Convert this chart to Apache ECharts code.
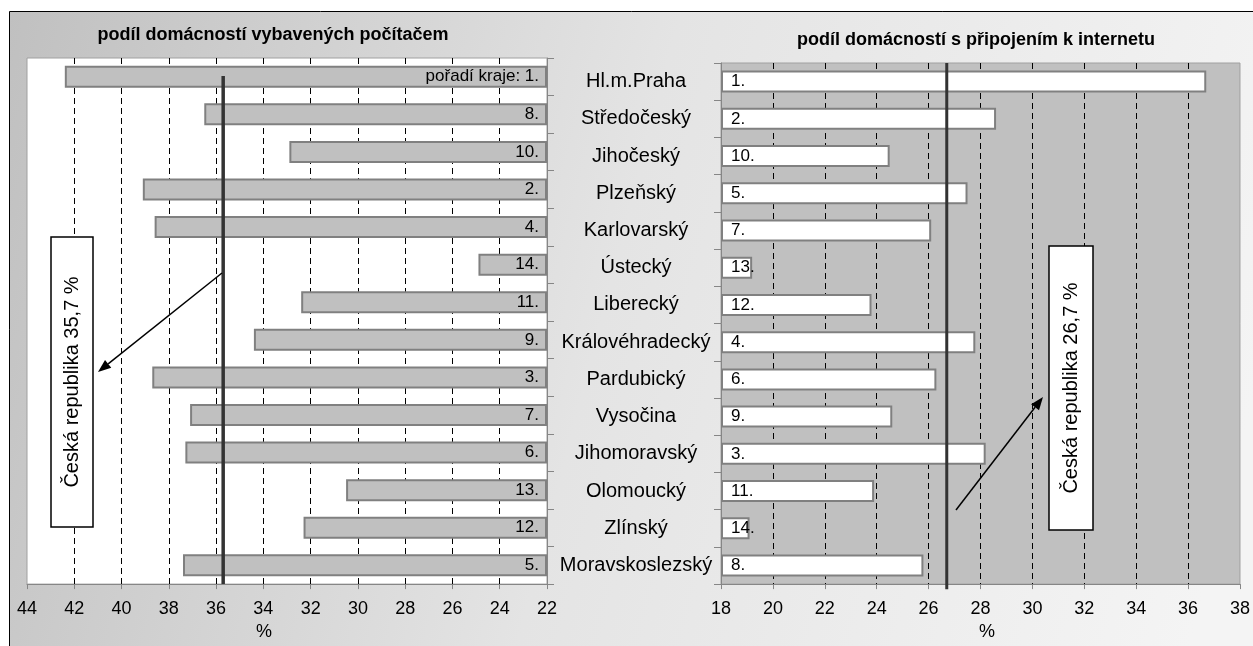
<!DOCTYPE html>
<html>
<head>
<meta charset="utf-8">
<script src="https://cdn.jsdelivr.net/npm/echarts@6/dist/echarts.min.js"></script>
<style>
    html, body { margin: 0; padding: 0; background: #fff; }
    #chart { width: 1253px; height: 646px; }
</style>
</head>
<body>
<div id="chart"></div>
<script>
    // kraje v pořadí grafu (shora dolů)
    const regions = ['Hl.m.Praha', 'Středočeský', 'Jihočeský', 'Plzeňský', 'Karlovarský', 'Ústecký', 'Liberecký',
        'Královéhradecký', 'Pardubický', 'Vysočina', 'Jihomoravský', 'Olomoucký', 'Zlínský', 'Moravskoslezský'];
    // podíl domácností vybavených počítačem (%)
    const pcShare = [42.4, 36.5, 32.9, 39.1, 38.6, 24.9, 32.4, 34.4, 38.7, 37.1, 37.3, 30.5, 32.3, 37.4];
    const pcRank = [1, 8, 10, 2, 4, 14, 11, 9, 3, 7, 6, 13, 12, 5];
    // podíl domácností s připojením k internetu (%)
    const netShare = [36.7, 28.6, 24.5, 27.5, 26.1, 19.2, 23.8, 27.8, 26.3, 24.6, 28.2, 23.9, 19.1, 25.8];
    const netRank = [1, 2, 10, 5, 7, 13, 12, 4, 6, 9, 3, 11, 14, 8];
    // Česká republika
    const pcMean = 35.7;
    const netMean = 26.7;

    const FONT = "'Liberation Sans', Arial, sans-serif";

    function arrow(x1, y1, x2, y2) {
        const a = Math.atan2(y2 - y1, x2 - x1), len = 13, w = 5;
        const bx = x2 - len * Math.cos(a), by = y2 - len * Math.sin(a);
        return [
            {type: 'line', z: 100, shape: {x1: x1, y1: y1, x2: bx, y2: by}, style: {stroke: '#000', lineWidth: 1.5}},
            {type: 'polygon', z: 100, shape: {points: [[x2, y2],
                        [bx + w * Math.sin(a), by - w * Math.cos(a)],
                        [bx - w * Math.sin(a), by + w * Math.cos(a)]]}, style: {fill: '#000'}}
        ];
    }

    function noteBox(x, y, w, h, text) {
        return {
            type: 'group', z: 100,
            children: [
                {type: 'rect', z: 100, shape: {x: x, y: y, width: w, height: h}, style: {fill: '#fff', stroke: '#000', lineWidth: 1.5}},
                {type: 'text', z: 101, x: x + w / 2, y: y + h / 2, rotation: Math.PI / 2,
                    style: {text: text, fontSize: 20, fontFamily: FONT, fill: '#000', align: 'center', verticalAlign: 'middle'}}
            ]
        };
    }

    const dashed = {show: true, showMinLine: false, showMaxLine: false, lineStyle: {color: '#000', type: [6, 4], width: 1}};
    const tickText = {fontSize: 18, fontFamily: FONT, color: '#000', margin: 16};

    const chart = echarts.init(document.getElementById('chart'));
    chart.setOption({
        animation: false,
        textStyle: {fontFamily: FONT},
        graphic: [
            {type: 'rect', z: -10, shape: {x: 9.5, y: 11.5, width: 1260, height: 650},
                style: {stroke: '#000', lineWidth: 1,
                    fill: new echarts.graphic.LinearGradient(0, 0, 1, 0.5, [
                        {offset: 0, color: '#c0c0c0'},
                        {offset: 0.5, color: '#e4e4e4'},
                        {offset: 1, color: '#f4f4f4'}
                    ])}},
            noteBox(51, 237, 42, 290, 'Česká republika 35,7 %'),
            noteBox(1049, 246, 44, 284, 'Česká republika 26,7 %'),
            ...arrow(222, 273, 98, 372),
            ...arrow(956, 510, 1043, 397)
        ],
        title: [{
            text: 'podíl domácností vybavených počítačem',
            left: 268, top: 21, textAlign: 'center',
            textStyle: {fontSize: 18, fontWeight: 'bold', color: '#000', fontFamily: FONT}
        }, {
            text: 'podíl domácností s připojením k internetu',
            left: 971, top: 26, textAlign: 'center',
            textStyle: {fontSize: 18, fontWeight: 'bold', color: '#000', fontFamily: FONT}
        }],
        grid: [{
            left: 27, top: 58, width: 520, height: 530,
            show: true, backgroundColor: '#fff', borderColor: '#a0a0a0', borderWidth: 1
        }, {
            left: 721, top: 63, width: 519, height: 527,
            show: true, backgroundColor: '#c0c0c0', borderColor: '#a0a0a0', borderWidth: 1
        }],
        xAxis: [{
            type: 'value', gridIndex: 0, min: 22, max: 44, interval: 2, inverse: true, startValue: 22,
            name: '%', nameLocation: 'middle', nameGap: 36,
            nameTextStyle: {fontSize: 18, color: '#000', padding: [0, 46, 0, 0]},
            axisLine: {show: true, lineStyle: {color: '#868686'}},
            axisTick: {show: true, length: 5, lineStyle: {color: '#868686'}},
            axisLabel: tickText,
            splitLine: dashed
        }, {
            type: 'value', gridIndex: 1, min: 18, max: 38, interval: 2, startValue: 18,
            name: '%', nameLocation: 'middle', nameGap: 36,
            nameTextStyle: {fontSize: 18, color: '#000', padding: [0, 0, 0, 13]},
            axisLine: {show: true, lineStyle: {color: '#868686'}},
            axisTick: {show: true, length: 5, lineStyle: {color: '#868686'}},
            axisLabel: tickText,
            splitLine: dashed
        }],
        yAxis: [{
            type: 'category', gridIndex: 0, data: regions, inverse: true, position: 'right',
            axisLine: {show: true, lineStyle: {color: '#868686'}},
            axisTick: {show: true, length: 7, lineStyle: {color: '#868686'}},
            axisLabel: {show: false}
        }, {
            type: 'category', gridIndex: 1, data: regions, inverse: true, position: 'left',
            axisLine: {show: true, lineStyle: {color: '#868686'}},
            axisTick: {show: true, length: 7, lineStyle: {color: '#868686'}},
            axisLabel: {show: true, align: 'center', margin: 85, fontSize: 20, color: '#000', fontFamily: FONT}
        }, {
            // pomocné osy pro svislé čáry průměru ČR
            type: 'value', gridIndex: 0, min: 0, max: 1, show: false
        }, {
            type: 'value', gridIndex: 1, min: 0, max: 1, show: false
        }],
        series: [{
            type: 'bar', xAxisIndex: 0, yAxisIndex: 0, data: pcShare, barWidth: 22,
            itemStyle: {color: '#c0c0c0', borderColor: '#808080', borderWidth: 2},
            label: {
                show: true, position: 'insideRight', distance: 8,
                fontSize: 17, color: '#000', fontFamily: FONT,
                formatter: p => (p.dataIndex === 0 ? 'pořadí kraje: ' : '') + pcRank[p.dataIndex] + '.'
            }
        }, {
            type: 'bar', xAxisIndex: 1, yAxisIndex: 1, data: netShare, barWidth: 22,
            itemStyle: {color: '#fff', borderColor: '#808080', borderWidth: 2},
            label: {
                show: true, position: 'insideLeft', distance: 10,
                fontSize: 17, color: '#000', fontFamily: FONT,
                formatter: p => netRank[p.dataIndex] + '.'
            }
        }, {
            type: 'line', xAxisIndex: 0, yAxisIndex: 2, clip: false, symbol: 'none', z: 5,
            lineStyle: {color: '#333', width: 3.5},
            data: [[pcMean, 0.966], [pcMean, 0]]
        }, {
            type: 'line', xAxisIndex: 1, yAxisIndex: 3, clip: false, symbol: 'none', z: 5,
            lineStyle: {color: '#333', width: 3},
            data: [[netMean, 1.0], [netMean, -0.01]]
        }]
    });
</script>
</body>
</html>
